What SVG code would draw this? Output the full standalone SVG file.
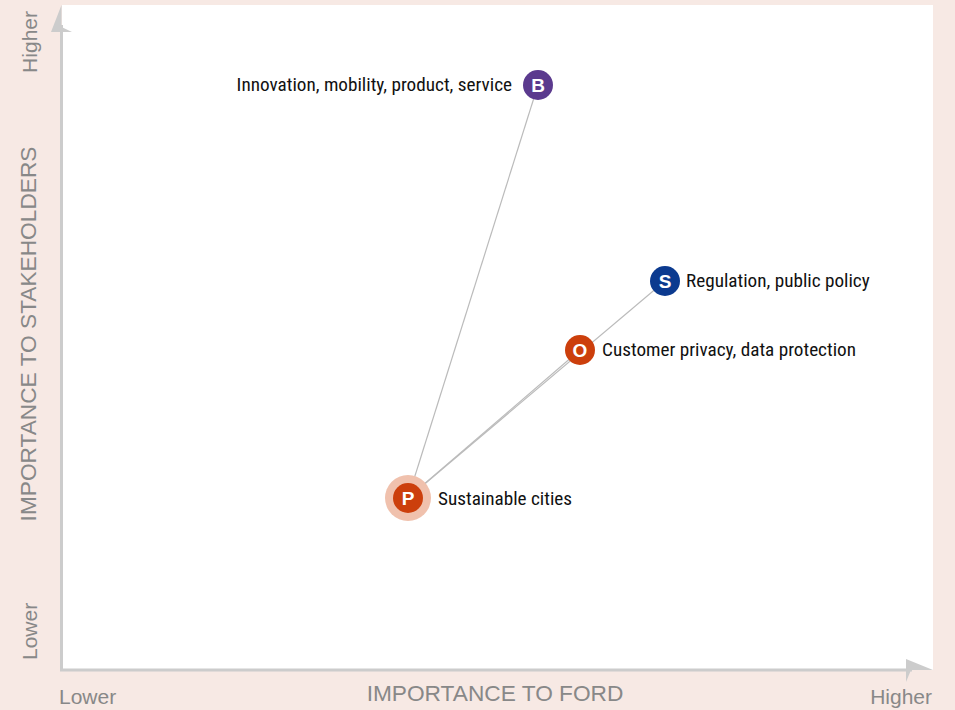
<svg xmlns="http://www.w3.org/2000/svg" width="955" height="710" viewBox="0 0 955 710">
<style>
.ax{fill:#888;font-family:"Liberation Sans",Arial,sans-serif;font-size:21px}
.big{font-size:22.7px}
.lbl{fill:#111;font-family:"Liberation Sans Narrow","Roboto Condensed","Liberation Sans",sans-serif;font-size:19.2px}
.ini{fill:#fff;font-family:"Liberation Sans",Arial,sans-serif;font-size:19px;font-weight:bold;text-anchor:middle}
.con{stroke:#bbb;stroke-width:1.2;fill:none}
</style>
<rect x="0" y="0" width="955" height="710" fill="#f7e9e4"/>
<rect x="62" y="5" width="871" height="665" fill="#fff"/>
<g id="axes">
<line x1="61.5" y1="671" x2="61.5" y2="25" stroke="#ccc" stroke-width="3"/>
<polygon points="61.5,5 51,32 72,32 61.5,27" fill="#ccc"/>
<line x1="60" y1="670" x2="912" y2="670" stroke="#ccc" stroke-width="3"/>
<polygon points="933,670 906,659 906,682 911,670" fill="#ccc"/>
<text class="ax" x="59" y="704">Lower</text>
<text class="ax" x="932" y="704" text-anchor="end">Higher</text>
<text class="ax big" x="495" y="701" text-anchor="middle">IMPORTANCE TO FORD</text>
<text class="ax" transform="translate(37,660) rotate(-90)">Lower</text>
<text class="ax" transform="translate(37,11) rotate(-90)" text-anchor="end">Higher</text>
<text class="ax big" transform="translate(36,334) rotate(-90)" text-anchor="middle">IMPORTANCE TO STAKEHOLDERS</text>
</g>
<g id="connectors">
<line class="con" x1="408" y1="498" x2="538" y2="85"/>
<line class="con" x1="408" y1="498" x2="665" y2="281"/>
<line class="con" x1="408" y1="498" x2="580" y2="350"/>
</g>
<g id="node-P">
<circle cx="408" cy="498" r="23" fill="#f0c1ad"/>
<circle cx="408" cy="498" r="15" fill="#cc3f0c"/>
<text class="ini" x="408" y="505">P</text>
<text class="lbl" x="438" y="505">Sustainable cities</text>
</g>
<g id="node-O">
<circle cx="580" cy="350" r="15" fill="#cc3f0c"/>
<text class="ini" x="580" y="357">O</text>
<text class="lbl" x="602" y="356">Customer privacy, data protection</text>
</g>
<g id="node-S">
<circle cx="665" cy="281" r="15" fill="#0b3a8f"/>
<text class="ini" x="665" y="288">S</text>
<text class="lbl" x="686" y="287">Regulation, public policy</text>
</g>
<g id="node-B">
<circle cx="538" cy="85" r="15" fill="#5b3a8e"/>
<text class="ini" x="538" y="92">B</text>
<text class="lbl" x="512" y="91" text-anchor="end">Innovation, mobility, product, service</text>
</g>
</svg>
